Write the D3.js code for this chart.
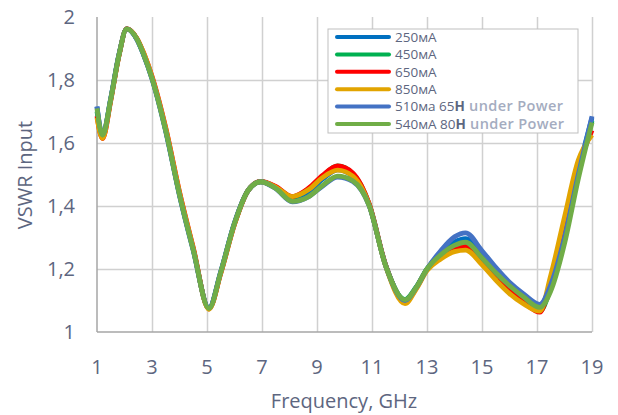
<!DOCTYPE html>
<head>
  <meta charset="utf-8">
  <script src="https://unpkg.com/d3@7/dist/d3.min.js"></script>
  <style>
    body { margin:0; background:#fff; }
    text { font-family: "Open Sans", sans-serif; fill:#5d6680; }
  </style>
</head>
<body>
  <svg width="618" height="415"></svg>
  <script>
    // frequency points, GHz
    var freq = [1, 1.2, 1.5, 1.8, 2.08, 2.45, 2.7, 3, 3.5, 4, 4.5, 5.07, 5.5, 6, 6.5, 6.95, 7.5, 8.1, 8.7, 9.2, 9.75, 10.3, 10.9, 11.5, 12.2, 12.6, 13, 13.5, 14, 14.4, 15, 15.5, 16, 16.5, 17.1, 17.5, 18, 18.5, 19];

    var vswr250 = [1.715, 1.622, 1.74, 1.88, 1.962, 1.93, 1.88, 1.806, 1.64, 1.437, 1.262, 1.076, 1.19, 1.345, 1.45, 1.477, 1.458, 1.422, 1.445, 1.485, 1.515, 1.495, 1.402, 1.21, 1.10, 1.14, 1.20, 1.25, 1.285, 1.296, 1.245, 1.195, 1.152, 1.116, 1.082, 1.15, 1.31, 1.51, 1.68];
    var vswr450 = [1.70, 1.62, 1.74, 1.88, 1.962, 1.93, 1.88, 1.806, 1.64, 1.437, 1.262, 1.075, 1.19, 1.345, 1.45, 1.477, 1.46, 1.428, 1.455, 1.495, 1.527, 1.503, 1.405, 1.21, 1.103, 1.142, 1.20, 1.245, 1.275, 1.283, 1.232, 1.183, 1.14, 1.104, 1.066, 1.14, 1.30, 1.50, 1.67];
    var vswr650 = [1.685, 1.614, 1.735, 1.878, 1.963, 1.932, 1.885, 1.812, 1.648, 1.445, 1.268, 1.073, 1.186, 1.342, 1.45, 1.478, 1.462, 1.43, 1.457, 1.497, 1.527, 1.505, 1.406, 1.212, 1.095, 1.138, 1.198, 1.24, 1.265, 1.272, 1.222, 1.174, 1.132, 1.096, 1.063, 1.16, 1.33, 1.52, 1.64];
    var vswr850 = [1.68, 1.615, 1.735, 1.878, 1.962, 1.932, 1.885, 1.81, 1.646, 1.443, 1.266, 1.072, 1.186, 1.342, 1.45, 1.477, 1.46, 1.43, 1.452, 1.49, 1.514, 1.495, 1.403, 1.208, 1.09, 1.135, 1.195, 1.232, 1.255, 1.26, 1.213, 1.165, 1.122, 1.09, 1.066, 1.18, 1.365, 1.545, 1.625];
    var vswr510 = [1.716, 1.626, 1.742, 1.882, 1.962, 1.928, 1.878, 1.803, 1.636, 1.433, 1.258, 1.077, 1.192, 1.347, 1.45, 1.477, 1.455, 1.413, 1.43, 1.463, 1.492, 1.478, 1.40, 1.21, 1.10, 1.14, 1.20, 1.258, 1.302, 1.315, 1.258, 1.205, 1.158, 1.122, 1.088, 1.15, 1.30, 1.50, 1.685];
    var vswr540 = [1.71, 1.625, 1.74, 1.88, 1.962, 1.93, 1.88, 1.805, 1.638, 1.435, 1.26, 1.075, 1.19, 1.345, 1.45, 1.477, 1.456, 1.415, 1.43, 1.465, 1.495, 1.48, 1.40, 1.21, 1.102, 1.14, 1.20, 1.245, 1.275, 1.285, 1.235, 1.188, 1.147, 1.112, 1.078, 1.13, 1.28, 1.485, 1.665];

    var names = ["250мА", "450мА", "650мА", "850мА", "510ма 65", "540мА 80"];
    var colors = ["#0070c0", "#00b050", "#ff0000", "#e2a400", "#4472c4", "#70ad47"];
    var series = [vswr250, vswr450, vswr650, vswr850, vswr510, vswr540];

    var xTicks = [1, 3, 5, 7, 9, 11, 13, 15, 17, 19];
    var yTicks = [1, 1.2, 1.4, 1.6, 1.8, 2];

    var svg = d3.select("svg");
    var pLeft = 97, pRight = 592, pTop = 17, pBottom = 332;

    var x = d3.scaleLinear().domain([1, 19]).range([pLeft, pRight]);
    var y = d3.scaleLinear().domain([1, 2]).range([pBottom, pTop]);
    var fmt = function (d) { return String(d).replace(".", ","); };

    // grid
    svg.append("g")
      .attr("transform", "translate(0," + pBottom + ")")
      .call(d3.axisBottom(x).tickValues(xTicks.slice(1)).tickSize(-(pBottom - pTop)).tickFormat(""))
      .call(function (g) { g.select(".domain").remove(); })
      .selectAll("line").attr("stroke", "#d0d0d0").attr("stroke-width", 1.5);
    svg.append("g")
      .attr("transform", "translate(" + pLeft + ",0)")
      .call(d3.axisLeft(y).tickValues([1.2, 1.4, 1.6, 1.8]).tickSize(-(pRight - pLeft)).tickFormat(""))
      .call(function (g) { g.select(".domain").remove(); })
      .selectAll("line").attr("stroke", "#d0d0d0").attr("stroke-width", 1.5);

    // axis lines
    svg.append("line").attr("x1", pLeft).attr("x2", pLeft).attr("y1", pTop).attr("y2", pBottom)
      .attr("stroke", "#a6a6a6").attr("stroke-width", 1.5);
    svg.append("line").attr("x1", pLeft).attr("x2", pRight).attr("y1", pBottom).attr("y2", pBottom)
      .attr("stroke", "#a6a6a6").attr("stroke-width", 1.5);

    // tick labels
    svg.append("g").selectAll("text").data(xTicks).enter().append("text")
      .attr("x", function (d) { return x(d); }).attr("y", 374)
      .attr("text-anchor", "middle").style("font-size", "20px").text(fmt);
    svg.append("g").selectAll("text").data(yTicks).enter().append("text")
      .attr("x", 75).attr("y", function (d) { return y(d) + 7; })
      .attr("text-anchor", "end").style("font-size", "20px").text(fmt);

    // axis titles
    svg.append("text").attr("x", 344).attr("y", 408).attr("text-anchor", "middle")
      .style("font-size", "20px").text("Frequency, GHz");
    svg.append("text").attr("transform", "translate(32,175) rotate(-90)").attr("text-anchor", "middle")
      .style("font-size", "20px").text("VSWR Input");

    // curves
    var line = d3.line()
      .x(function (d, i) { return x(freq[i]); })
      .y(function (d) { return y(d); })
      .curve(d3.curveMonotoneX);

    svg.append("g").selectAll("path").data(series).enter().append("path")
      .attr("d", line)
      .attr("fill", "none")
      .attr("stroke", function (d, i) { return colors[i]; })
      .attr("stroke-width", 4.8)
      .attr("stroke-linejoin", "round");

    // legend
    var lg = svg.append("g");
    lg.append("rect").attr("x", 328).attr("y", 29).attr("width", 250).attr("height", 104)
      .attr("fill", "#fff").attr("stroke", "#bfbfbf").attr("stroke-width", 1);
    var row = lg.selectAll("g.row").data(names).enter().append("g").attr("class", "row")
      .attr("transform", function (d, i) { return "translate(0," + (37 + i * 17.4) + ")"; });
    row.append("line").attr("x1", 337).attr("x2", 389).attr("y1", 0).attr("y2", 0)
      .attr("stroke", function (d, i) { return colors[i]; }).attr("stroke-width", 4)
      .attr("stroke-linecap", "round");
    var t = row.append("text").attr("x", 395).attr("y", 4.8).style("font-size", "13.5px");
    t.append("tspan").text(function (d) { return d; });
    t.filter(function (d, i) { return i >= 4; }).append("tspan")
      .style("font-weight", "bold").text("H");
    t.filter(function (d, i) { return i >= 4; }).append("tspan")
      .style("fill", "#a4acc0").style("font-weight", "600").style("font-size", "14.5px")
      .style("letter-spacing", "0.4px").text(" under Power");
  </script>
</body>
